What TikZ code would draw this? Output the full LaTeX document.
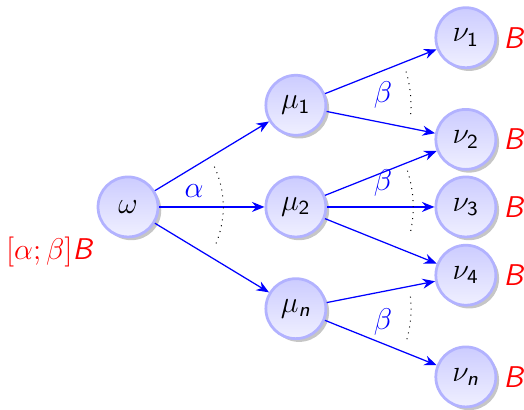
\documentclass[tikz,border=0pt]{standalone}
\usepackage{amsmath,amssymb}
\usepackage{tikz}
\usetikzlibrary{shadows,arrows.meta,positioning}
\newcommand{\sfn}{\text{\sffamily\itshape n}}
\newcommand{\sfB}{\text{\sffamily\itshape B}}
\tikzset{
  ball/.style={circle, draw=blue!30, line width=1.1pt, top color=blue!20, bottom color=blue!6,
    minimum size=24pt, inner sep=0pt,
    drop shadow={shadow xshift=1.3pt, shadow yshift=-1.3pt, opacity=0.45}},
  link/.style={-{Stealth[length=5pt,width=4pt]}, blue, line width=0.5pt},
  weight/.style={blue},
  rest/.style={red}
}

\begin{document}
\begin{tikzpicture}[font=\large]
    \useasboundingbox (-1.80,-2.854) rectangle (5.568,2.910);

    \node[ball] (w) at (0,0) {$\omega$};
    \node[rest] (bw) at (-1.11,-0.63) {$[\alpha;\beta]\sfB$};

    \node[ball] (m1) at (2.36,1.43) {$\mu_{\mathsf{1}}$};
    \node[ball] (m2) at (2.36,0) {$\mu_{\mathsf{2}}$};
    \node[ball] (mn) at (2.36,-1.43) {$\mu_{\sfn}$};

    \foreach \name/\y/\lbl in {v1/2.38/\mathsf{1}, v2/0.95/\mathsf{2}, v3/0/\mathsf{3}, v4/-0.96/\mathsf{4}, vn/-2.39/\sfn} {
        \node[ball] (\name) at (4.75,\y) {$\nu_{\lbl}$};
        \node[rest, right=-1pt of \name] (b\name) {$\sfB$};
    }

    \foreach \from/\to in {w/m1, w/m2, w/mn, m1/v1, m1/v2, m2/v2, m2/v3, m2/v4, mn/v4, mn/vn}
        \draw[link] (\from) -- (\to);

    % angles between the branches
    \draw[dotted] (w) ++(25:1.34) arc (25:-25:1.34);
    \draw[dotted] (m1) ++(17:1.62) arc (17:-6:1.62);
    \draw[dotted] (m2) ++(18:1.65) arc (18:-14:1.65);
    \draw[dotted] (mn) ++(6:1.62) arc (6:-16:1.62);

    \node[weight] (a) at (0.93,0.23) {$\alpha$};
    \node[weight] (b1) at (3.585,1.575) {$\beta$};
    \node[weight] (b2) at (3.585,0.337) {$\beta$};
    \node[weight] (b3) at (3.585,-1.617) {$\beta$};
\end{tikzpicture}
\end{document}
